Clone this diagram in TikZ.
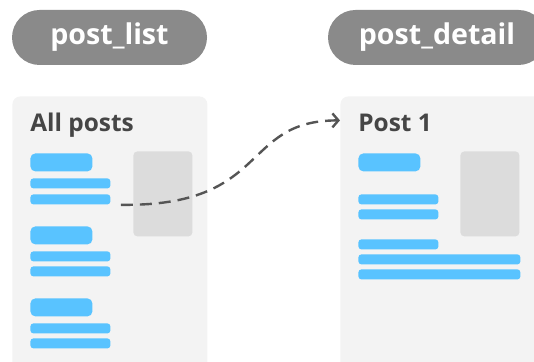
\documentclass[tikz,border=0pt]{standalone}
\usepackage{fontspec}
\setmainfont{Open Sans}
\usepackage{tikz}
\usetikzlibrary{arrows.meta}
\usetikzlibrary{positioning}

\definecolor{pillgray}{HTML}{8A8A8A}
\definecolor{panelgray}{HTML}{F3F3F3}
\definecolor{imggray}{HTML}{DCDCDC}
\definecolor{barblue}{HTML}{59C3FF}
\definecolor{textdark}{HTML}{454545}
\definecolor{arrowgray}{HTML}{555555}

\begin{document}
\begin{tikzpicture}[
    x=0.5pt, y=-0.5pt,
    pill/.style={rectangle, fill=pillgray, rounded corners=13.75pt, minimum height=27.5pt, inner sep=0pt, text=white, font=\fontsize{14.3}{16}\selectfont\bfseries},
    panel/.style={rectangle, fill=panelgray, rounded corners=4pt, anchor=north west, inner sep=0pt},
    title/.style={anchor=base west, inner sep=0pt, text=textdark, font=\fontsize{12.2}{14}\selectfont\bfseries},
    head/.style={rectangle, fill=barblue, rounded corners=2.5pt, minimum width=31pt, minimum height=9pt, anchor=north west, inner sep=0pt},
    bar/.style={rectangle, fill=barblue, rounded corners=1.5pt, minimum width=40pt, minimum height=5pt, anchor=north west, inner sep=0pt},
    longbar/.style={bar, minimum width=81pt},
    img/.style={rectangle, fill=imggray, rounded corners=2pt, minimum width=29.5pt, minimum height=42.5pt, anchor=north west, inner sep=0pt},
    link/.style={-{Straight Barb[length=3pt, width=7pt]}, line width=1.2pt, arrowgray, dash pattern=on 6pt off 3.5pt}
    ]
    \useasboundingbox (0,0) rectangle (534,362);
    \clip (0,0) rectangle (534,362);

    % Nodes
    \node[pill, minimum width=97.5pt] (list) at (109.5,37.5) {post\_list};
    \node[pill, minimum width=109pt] (detail) at (437,37.5) {post\_detail};

    \node[panel, minimum width=97.5pt, minimum height=140pt] (listpanel) at (12,96) {};
    \node[panel, minimum width=105pt, minimum height=140pt] (detailpanel) at (340,96) {};

    \node[title] (listtitle) at (30,132) {All posts};
    \node[title] (detailtitle) at (358,132) {Post 1};

    % list page
    \node[img] (listimg) at (133,151) {};
    \node[head] (la) at (30,153) {};
    \node[bar] (la1) at (30,178) {};
    \node[bar] (la2) at (30,194) {};
    \node[head] (lb) at (30,226) {};
    \node[bar] (lb1) at (30,251) {};
    \node[bar] (lb2) at (30,266) {};
    \node[head] (lc) at (30,298) {};
    \node[bar] (lc1) at (30,323) {};
    \node[bar] (lc2) at (30,338) {};

    % detail page
    \node[img] (detailimg) at (460,151) {};
    \node[head] (da) at (358,153) {};
    \node[bar] (da1) at (358,194) {};
    \node[bar] (da2) at (358,209) {};
    \node[bar] (da3) at (358,239) {};
    \node[longbar] (da4) at (358,254) {};
    \node[longbar] (da5) at (358,269) {};

    \coordinate[right=5pt of la2.south east] (start);
    \coordinate[left=9pt of detailtitle.west, yshift=1.5pt] (end);

    \draw[link] (start) .. controls +(150,2) and +(-100,0) .. (end);

\end{tikzpicture}
\end{document}
